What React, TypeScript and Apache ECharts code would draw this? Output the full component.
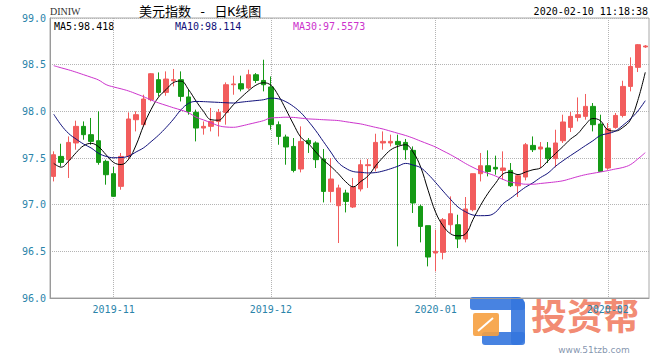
import React, { useEffect, useRef } from 'react';
import * as echarts from 'echarts';

// ---- data ----
const dates: string[] = [
  '2019-10-22', '2019-10-23', '2019-10-24', '2019-10-25', '2019-10-28', '2019-10-29', '2019-10-30', '2019-10-31',
  '2019-11-01', '2019-11-04', '2019-11-05', '2019-11-06', '2019-11-07', '2019-11-08', '2019-11-11', '2019-11-12',
  '2019-11-13', '2019-11-14', '2019-11-15', '2019-11-18', '2019-11-19', '2019-11-20', '2019-11-21', '2019-11-22',
  '2019-11-25', '2019-11-26', '2019-11-27', '2019-11-28', '2019-11-29',
  '2019-12-02', '2019-12-03', '2019-12-04', '2019-12-05', '2019-12-06', '2019-12-09', '2019-12-10', '2019-12-11',
  '2019-12-12', '2019-12-13', '2019-12-16', '2019-12-17', '2019-12-18', '2019-12-19', '2019-12-20', '2019-12-23',
  '2019-12-24', '2019-12-25', '2019-12-26', '2019-12-27', '2019-12-30', '2019-12-31',
  '2020-01-01', '2020-01-02', '2020-01-03', '2020-01-06', '2020-01-07', '2020-01-08', '2020-01-09', '2020-01-10',
  '2020-01-13', '2020-01-14', '2020-01-15', '2020-01-16', '2020-01-17', '2020-01-20', '2020-01-21', '2020-01-22',
  '2020-01-23', '2020-01-24', '2020-01-27', '2020-01-28', '2020-01-29', '2020-01-30', '2020-01-31',
  '2020-02-03', '2020-02-04', '2020-02-05', '2020-02-06', '2020-02-07', '2020-02-10',
];

const opens: number[] = [
  97.303, 97.517, 97.482, 97.661, 97.839, 97.75, 97.685, 97.464, 97.332, 97.196,
  97.517, 97.91, 97.857, 98.125, 98.339, 98.203, 98.328, 98.339, 98.154, 97.989,
  97.821, 97.839, 97.892, 97.989, 98.285, 98.296, 98.25, 98.392, 98.331, 98.261,
  97.857, 97.725, 97.624, 97.382, 97.689, 97.661, 97.489, 97.142, 96.989, 97.125,
  96.975, 97.168, 97.418, 97.393, 97.661, 97.661, 97.678, 97.667, 97.582, 96.982,
  96.775, 96.482, 96.489, 96.785, 96.785, 96.632, 96.946, 97.332, 97.417, 97.4,
  97.367, 97.367, 97.203, 97.296, 97.635, 97.596, 97.607, 97.493, 97.685, 97.828,
  97.935, 97.946, 98.053, 97.864, 97.393, 97.828, 97.956, 98.267, 98.471, 98.69,
];

const closes: number[] = [
  97.535, 97.453, 97.667, 97.839, 97.75, 97.678, 97.453, 97.321, 97.089, 97.517,
  97.918, 97.964, 98.132, 98.403, 98.203, 98.346, 98.339, 98.16, 97.999, 97.821,
  97.839, 97.892, 97.989, 98.285, 98.293, 98.239, 98.392, 98.331, 98.285, 97.857,
  97.731, 97.618, 97.367, 97.678, 97.653, 97.482, 97.142, 97.275, 97.179, 97.035,
  97.189, 97.428, 97.428, 97.667, 97.678, 97.678, 97.643, 97.589, 97.018, 96.767,
  96.439, 96.5, 96.839, 96.903, 96.632, 96.954, 97.332, 97.417, 97.356, 97.382,
  97.393, 97.203, 97.31, 97.642, 97.589, 97.618, 97.493, 97.661, 97.886, 97.946,
  97.964, 98.053, 97.857, 97.356, 97.814, 97.956, 98.267, 98.481, 98.714, 98.7,
];

const lows: number[] = [
  97.249, 97.41, 97.286, 97.589, 97.696, 97.642, 97.428, 97.214, 97.089, 97.16,
  97.482, 97.785, 97.839, 98.107, 98.16, 98.167, 98.267, 98.106, 97.964, 97.678,
  97.75, 97.785, 97.731, 97.857, 98.178, 98.214, 98.232, 98.304, 98.214, 97.803,
  97.642, 97.428, 97.346, 97.346, 97.554, 97.393, 97.024, 97.024, 96.589, 96.917,
  96.964, 97.142, 97.179, 97.356, 97.589, 97.624, 96.553, 97.482, 96.911, 96.596,
  96.339, 96.285, 96.414, 96.696, 96.535, 96.596, 96.929, 97.249, 97.303, 97.321,
  97.267, 97.189, 97.082, 97.26, 97.564, 97.393, 97.446, 97.4, 97.661, 97.779,
  97.892, 97.91, 97.785, 97.356, 97.375, 97.814, 97.935, 98.214, 98.421, 98.68,
];

const highs: number[] = [
  97.571, 97.653, 97.731, 97.9, 97.892, 97.929, 98.0, 97.482, 97.404, 97.554,
  97.989, 98.0, 98.178, 98.41, 98.417, 98.428, 98.454, 98.428, 98.239, 98.018,
  97.892, 98.036, 98.025, 98.31, 98.382, 98.382, 98.446, 98.41, 98.553, 98.374,
  97.892, 97.75, 97.714, 97.839, 97.714, 97.678, 97.596, 97.5, 97.214, 97.16,
  97.286, 97.482, 97.489, 97.76, 97.785, 97.75, 97.75, 97.704, 97.624, 97.0,
  96.775, 96.732, 96.857, 97.089, 96.892, 97.082, 97.332, 97.554, 97.582, 97.525,
  97.571, 97.446, 97.321, 97.661, 97.731, 97.671, 97.671, 97.803, 97.964, 97.993,
  98.149, 98.186, 98.089, 97.964, 97.875, 97.982, 98.328, 98.578, 98.721, 98.71,
];

const ma5: number[] = [
  97.442, 97.402, 97.468, 97.558, 97.632, 97.657, 97.619, 97.534, 97.452, 97.43,
  97.487, 97.639, 97.848, 98.02, 98.152, 98.233, 98.309, 98.324, 98.233, 98.111,
  98.0, 97.91, 97.905, 97.978, 98.071, 98.147, 98.219, 98.28, 98.306, 98.28,
  98.17, 98.021, 97.865, 97.723, 97.655, 97.564, 97.479, 97.41, 97.332, 97.245,
  97.191, 97.248, 97.31, 97.417, 97.509, 97.587, 97.625, 97.642, 97.563, 97.404,
  97.154, 96.919, 96.773, 96.688, 96.666, 96.686, 96.842, 96.992, 97.122, 97.229,
  97.329, 97.347, 97.322, 97.349, 97.374, 97.393, 97.469, 97.547, 97.622, 97.701,
  97.761, 97.856, 97.923, 97.9, 97.802, 97.789, 97.827, 97.906, 98.116, 98.418,
];

const ma10: number[] = [
  97.969, 97.852, 97.762, 97.702, 97.649, 97.607, 97.55, 97.517, 97.503, 97.505,
  97.52, 97.565, 97.609, 97.675, 97.745, 97.826, 97.917, 98.017, 98.085, 98.106,
  98.104, 98.1, 98.096, 98.092, 98.089, 98.098, 98.107, 98.115, 98.124, 98.141,
  98.134, 98.103, 98.053, 97.986, 97.894, 97.792, 97.678, 97.564, 97.451, 97.39,
  97.355, 97.347, 97.34, 97.344, 97.361, 97.385, 97.413, 97.442, 97.424, 97.396,
  97.325, 97.238, 97.145, 97.056, 96.974, 96.924, 96.889, 96.882, 96.884, 96.919,
  97.009, 97.067, 97.128, 97.187, 97.234, 97.29, 97.338, 97.41, 97.47, 97.525,
  97.578, 97.632, 97.684, 97.741, 97.762, 97.788, 97.849, 97.917, 98.002, 98.114,
];

const ma30: number[] = [
  98.489, 98.466, 98.444, 98.419, 98.392, 98.365, 98.335, 98.286, 98.261, 98.241,
  98.218, 98.188, 98.157, 98.122, 98.09, 98.064, 98.038, 98.014, 97.985, 97.938,
  97.908, 97.878, 97.846, 97.832, 97.829, 97.842, 97.861, 97.88, 97.9, 97.929,
  97.933, 97.937, 97.935, 97.927, 97.919, 97.915, 97.91, 97.906, 97.901, 97.889,
  97.877, 97.865, 97.847, 97.828, 97.81, 97.787, 97.764, 97.741, 97.713, 97.681,
  97.65, 97.617, 97.576, 97.535, 97.489, 97.441, 97.399, 97.362, 97.336, 97.307,
  97.271, 97.242, 97.231, 97.219, 97.219, 97.227, 97.235, 97.244, 97.256, 97.278,
  97.301, 97.321, 97.336, 97.35, 97.365, 97.382, 97.398, 97.428, 97.489, 97.5573,
];

const yMin = 96.0;
const yMax = 99.0;
const yStep = 0.5;

const symbolCode = 'DINIW';
const titleText = '美元指数 - 日K线图';
const timeStamp = '2020-02-10 11:18:38';

// ---- styles ----
const UP = '#f25d5d';
const DOWN = '#159a15';
const AXIS_TEXT = '#2a84aa';
const MONO = '"DejaVu Sans Mono", monospace';
const MA_COLORS = ['#000000', '#10107a', '#cc33cc'];

const isMonthStart = (i: number) => i > 0 && dates[i].slice(0, 7) !== dates[i - 1].slice(0, 7);

export default function App() {
  const ref = useRef<HTMLDivElement>(null);

  useEffect(() => {
    if (!ref.current) return;
    const chart = echarts.init(ref.current, undefined, { renderer: 'svg' });
    const candles = dates.map((_, i) => [opens[i], closes[i], lows[i], highs[i]]);
    const last = (a: number[]) => a[a.length - 1];

    const option: any = {
      animation: false,
      backgroundColor: '#ffffff',
      grid: {
        left: 50, right: 11, top: 18, bottom: 62,
        show: true, borderColor: '#a8a8a8', borderWidth: 1, backgroundColor: 'transparent',
      },
      xAxis: {
        type: 'category',
        data: dates,
        boundaryGap: true,
        axisLine: { show: true, lineStyle: { color: '#9a9a9a' } },
        axisTick: { show: false },
        axisLabel: {
          interval: (i: number) => isMonthStart(i),
          formatter: (v: string) => v.slice(0, 7),
          color: AXIS_TEXT, fontFamily: MONO, fontSize: 10, margin: 6,
        },
        splitLine: {
          show: true,
          interval: (i: number) => isMonthStart(i),
          alignWithLabel: true,
          lineStyle: { type: 'dotted', color: '#b4b4b4', width: 1 },
        },
      },
      yAxis: {
        type: 'value',
        min: yMin, max: yMax, interval: yStep,
        axisLine: { show: true, lineStyle: { color: '#9a9a9a' } },
        axisTick: { show: false },
        axisLabel: {
          formatter: (v: number) => v.toFixed(1),
          color: AXIS_TEXT, fontFamily: MONO, fontSize: 10, margin: 4,
        },
        splitLine: { show: true, lineStyle: { type: 'dotted', color: '#b4b4b4', width: 1 } },
      },
      series: [
        {
          type: 'candlestick',
          data: candles,
          barWidth: 5,
          itemStyle: { color: UP, color0: DOWN, borderColor: UP, borderColor0: DOWN, borderWidth: 1 },
        },
        { type: 'line', data: ma5, smooth: 0.4, symbol: 'none', lineStyle: { color: MA_COLORS[0], width: 1 } },
        { type: 'line', data: ma10, smooth: 0.4, symbol: 'none', lineStyle: { color: MA_COLORS[1], width: 1 } },
        { type: 'line', data: ma30, smooth: 0.4, symbol: 'none', lineStyle: { color: MA_COLORS[2], width: 1 } },
      ],
      graphic: [
        { type: 'text', x: 50, y: 11, style: { text: symbolCode, fontFamily: '"Liberation Serif", serif', fontSize: 10, fill: '#333', textVerticalAlign: 'middle' } },
        { type: 'text', x: 139, y: 11, style: { text: titleText, fontFamily: '"DejaVu Sans Mono", "Noto Sans CJK SC"', fontSize: 13, fill: '#000', textVerticalAlign: 'middle' } },
        { type: 'text', x: 648, y: 11, style: { text: timeStamp, fontFamily: MONO, fontSize: 10, fill: '#000', textAlign: 'right', textVerticalAlign: 'middle' } },
        { type: 'text', x: 54, y: 26, style: { text: `MA5:${last(ma5)}`, fontFamily: MONO, fontSize: 10, fill: MA_COLORS[0], textVerticalAlign: 'middle' } },
        { type: 'text', x: 175, y: 26, style: { text: `MA10:${last(ma10)}`, fontFamily: MONO, fontSize: 10, fill: MA_COLORS[1], textVerticalAlign: 'middle' } },
        { type: 'text', x: 293, y: 26, style: { text: `MA30:${last(ma30)}`, fontFamily: MONO, fontSize: 10, fill: MA_COLORS[2], textVerticalAlign: 'middle' } },
        // watermark
        {
          type: 'group', z: 100, children: [
            { type: 'rect', shape: { x: 470, y: 297, width: 55, height: 13, r: [3, 8, 3, 3] }, style: { fill: 'rgba(52,118,222,0.9)' } },
            { type: 'rect', shape: { x: 511, y: 297, width: 14, height: 48, r: [3, 8, 8, 3] }, style: { fill: 'rgba(52,118,222,0.9)' } },
            { type: 'rect', shape: { x: 482, y: 332, width: 43, height: 13, r: 3 }, style: { fill: 'rgba(52,118,222,0.9)' } },
            { type: 'rect', shape: { x: 473, y: 313, width: 26, height: 23, r: 2 }, style: { fill: 'rgba(246,160,64,0.9)' } },
            { type: 'line', shape: { x1: 478, y1: 331, x2: 493, y2: 318 }, style: { stroke: '#ffffff', lineWidth: 2 } },
            { type: 'text', x: 531, y: 296, style: { text: '投资帮', fontFamily: '"Noto Sans CJK SC"', fontWeight: 'bold', fontSize: 36, fill: 'rgba(238,96,62,0.72)', textVerticalAlign: 'top' } },
            { type: 'text', x: 594, y: 350, style: { text: 'www.51tzb.com', fontFamily: '"DejaVu Sans", sans-serif', fontSize: 9, fill: 'rgba(110,130,160,0.85)', textAlign: 'center', textVerticalAlign: 'middle' } },
          ],
        },
      ],
    };
    chart.setOption(option);
    return () => chart.dispose();
  }, []);

  return <div ref={ref} style={{ position: 'absolute', left: 0, top: 0, width: 660, height: 360 }} />;
}
